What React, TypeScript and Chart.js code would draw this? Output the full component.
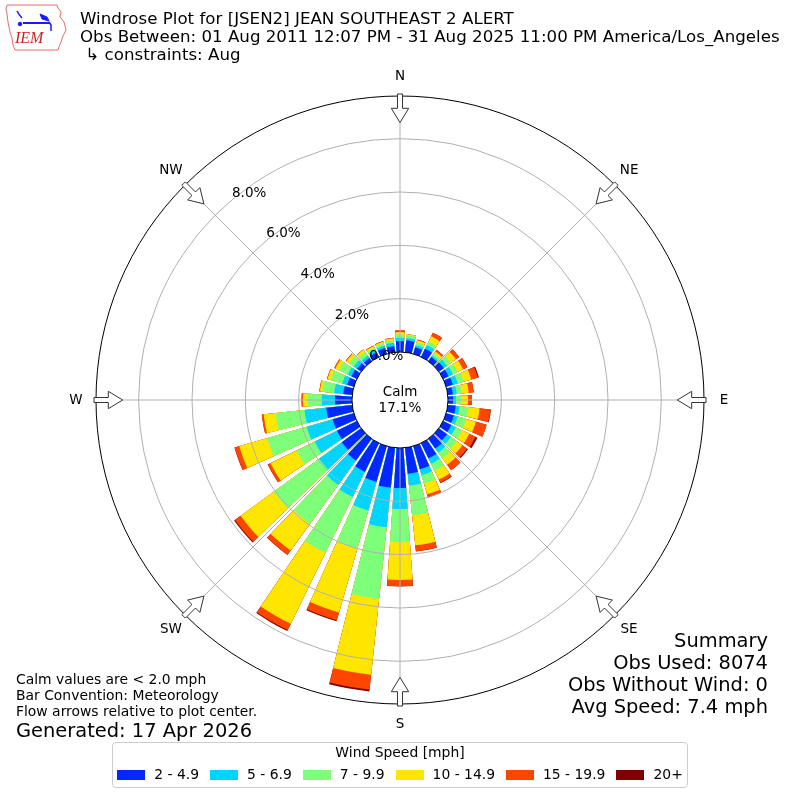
import React, { useEffect, useRef } from "react";
import { Chart, registerables } from "chart.js";

Chart.register(...registerables);

// ---------------- data ----------------
const directionsDeg = [0, 10, 20, 30, 40, 50, 60, 70, 80, 90, 100, 110, 120, 130, 140, 150, 160, 170,
  180, 190, 200, 210, 220, 230, 240, 250, 260, 270, 280, 290, 300, 310, 320, 330, 340, 350];

const speedLabels = ["2 - 4.9", "5 - 6.9", "7 - 9.9", "10 - 14.9", "15 - 19.9", "20+"];
const speedColors = ["#0028ff", "#00d4ff", "#7dff7a", "#ffe600", "#ff4600", "#7f0000"];

// percent of observations per direction, per speed class
const pct2to5 = [0.41, 0.45, 0.26, 0.34, 0.19, 0.23, 0.23, 0.26, 0.19, 0.19, 0.30, 0.30, 0.34, 0.38, 0.45, 0.64, 0.90, 0.98,
  1.50, 1.50, 1.39, 1.20, 1.01, 0.90, 0.83, 0.83, 0.98, 0.64, 0.34, 0.26, 0.23, 0.19, 0.15, 0.19, 0.23, 0.23];
const pct5to7 = [0.12, 0.09, 0.08, 0.15, 0.07, 0.15, 0.18, 0.19, 0.15, 0.11, 0.15, 0.15, 0.19, 0.18, 0.19, 0.22, 0.23, 0.45,
  0.79, 1.50, 1.12, 1.05, 1.13, 1.05, 0.93, 1.01, 0.82, 0.49, 0.34, 0.19, 0.15, 0.15, 0.11, 0.11, 0.09, 0.13];
const pct7to10 = [0.13, 0.10, 0.11, 0.15, 0.12, 0.18, 0.19, 0.23, 0.19, 0.19, 0.34, 0.34, 0.26, 0.27, 0.26, 0.30, 0.33, 1.12,
  1.24, 2.70, 1.50, 2.33, 1.80, 2.10, 0.75, 1.54, 1.09, 0.56, 0.45, 0.45, 0.37, 0.22, 0.15, 0.09, 0.09, 0.10];
const pct10to15 = [0.09, 0.04, 0.08, 0.22, 0.07, 0.23, 0.23, 0.30, 0.26, 0.26, 0.41, 0.37, 0.30, 0.26, 0.30, 0.36, 0.42, 1.13,
  1.42, 2.86, 2.48, 2.96, 1.24, 1.54, 1.09, 1.09, 0.45, 0.15, 0.09, 0.13, 0.15, 0.12, 0.12, 0.06, 0.06, 0.07];
const pct15to20 = [0.06, 0.00, 0.03, 0.15, 0.08, 0.15, 0.18, 0.26, 0.19, 0.15, 0.41, 0.42, 0.26, 0.22, 0.26, 0.13, 0.11, 0.22,
  0.23, 0.56, 0.30, 0.26, 0.19, 0.26, 0.11, 0.18, 0.07, 0.05, 0.02, 0.02, 0.04, 0.03, 0.01, 0.02, 0.02, 0.02];
const pct20plus = [0, 0, 0, 0, 0, 0, 0, 0.04, 0, 0, 0.02, 0, 0.08, 0.04, 0, 0.02, 0.01, 0.01,
  0.01, 0.07, 0.04, 0.04, 0.01, 0.04, 0.01, 0.01, 0, 0, 0, 0, 0, 0, 0, 0, 0, 0];

const radialTicks = [0, 2, 4, 6, 8];
const compassLabels = ["N", "NE", "E", "SE", "S", "SW", "W", "NW"];
const compassAngles = [0, 45, 90, 135, 180, 225, 270, 315];
const calmPercent = 17.1;

const titleLines = [
  "Windrose Plot for [JSEN2] JEAN SOUTHEAST 2 ALERT",
  "Obs Between: 01 Aug 2011 12:07 PM - 31 Aug 2025 11:00 PM America/Los_Angeles",
  " \u21b3 constraints: Aug",
];
const noteLines = ["Calm values are < 2.0 mph", "Bar Convention: Meteorology", "Flow arrows relative to plot center."];
const generatedText = "Generated: 17 Apr 2026";
const summaryLines = ["Summary", "Obs Used: 8074", "Obs Without Wind: 0", "Avg Speed: 7.4 mph"];
const legendTitle = "Wind Speed [mph]";

// ---------------- layout constants ----------------
const R_MIN = -1.8;
const R_MAX = 9.6;
const BAR_DEG = 8;
const GAP_DEG = 2;
const FONT = '"DejaVu Sans", "Liberation Sans", sans-serif';

const decorPlugin = {
  id: "windroseDecor",
  afterDatasetsDraw(chart: any) {
    const scale = chart.scales.r;
    const ctx: CanvasRenderingContext2D = chart.ctx;
    const cx = scale.xCenter;
    const cy = scale.yCenter;
    const rad = (v: number) => scale.getDistanceFromCenterForValue(v);
    const r0 = rad(0);
    const rOuter = rad(R_MAX);
    const pt = (r: number, deg: number) => {
      const t = (deg * Math.PI) / 180;
      return [cx + r * Math.sin(t), cy - r * Math.cos(t)];
    };
    ctx.save();
    // grid circles
    ctx.lineWidth = 1;
    ctx.strokeStyle = "#b0b0b0";
    for (const t of radialTicks) {
      if (t <= 0) continue;
      ctx.beginPath();
      ctx.arc(cx, cy, rad(t), 0, Math.PI * 2);
      ctx.stroke();
    }
    // radial lines
    for (const a of compassAngles) {
      const [x1, y1] = pt(r0, a);
      const [x2, y2] = pt(rOuter, a);
      ctx.beginPath();
      ctx.moveTo(x1, y1);
      ctx.lineTo(x2, y2);
      ctx.stroke();
    }
    // outer frame
    ctx.strokeStyle = "#000";
    ctx.beginPath();
    ctx.arc(cx, cy, rOuter, 0, Math.PI * 2);
    ctx.stroke();
    // calm circle
    ctx.beginPath();
    ctx.arc(cx, cy, r0, 0, Math.PI * 2);
    ctx.fillStyle = "#fff";
    ctx.fill();
    ctx.stroke();
    ctx.fillStyle = "#000";
    ctx.font = `13.5px ${FONT}`;
    ctx.textAlign = "center";
    ctx.textBaseline = "middle";
    ctx.fillText("Calm", cx, cy - 8);
    ctx.fillText(`${calmPercent.toFixed(1)}%`, cx, cy + 8);
    // radial tick labels
    ctx.textAlign = "left";
    ctx.textBaseline = "bottom";
    for (const t of radialTicks) {
      const [x, y] = pt(rad(t), -40);
      ctx.fillText(`${t.toFixed(1)}%`, x, y);
    }
    // compass labels
    ctx.textAlign = "center";
    ctx.textBaseline = "middle";
    compassLabels.forEach((lab, i) => {
      const [x, y] = pt(rOuter + 20, compassAngles[i]);
      ctx.fillText(lab, x, y);
    });
    // flow arrows pointing to center
    ctx.lineWidth = 1;
    ctx.strokeStyle = "#333";
    ctx.fillStyle = "#fff";
    for (const a of compassAngles) {
      const t = (a * Math.PI) / 180;
      const ux = Math.sin(t), uy = -Math.cos(t);
      const px = Math.cos(t), py = Math.sin(t);
      const P = (r: number, s: number) => [cx + ux * r + px * s, cy + uy * r + py * s];
      const shape = [
        P(rOuter + 2, -2.5), P(rOuter - 12.3, -2.5), P(rOuter - 12.3, -8.7), P(rOuter - 26.7, 0),
        P(rOuter - 12.3, 8.7), P(rOuter - 12.3, 2.5), P(rOuter + 2, 2.5),
      ];
      ctx.beginPath();
      shape.forEach(([x, y], i) => (i === 0 ? ctx.moveTo(x, y) : ctx.lineTo(x, y)));
      ctx.closePath();
      ctx.fill();
      ctx.stroke();
    }
    ctx.restore();
  },
};

function Txt(props: { x: number; base: number; size: number; align?: string; children: any; style?: any }) {
  const { x, base, size, align = "left", children, style } = props;
  const s: any = {
    position: "absolute",
    top: base - 0.846 * size,
    fontSize: size,
    lineHeight: 1,
    whiteSpace: "pre",
    fontFamily: FONT,
    color: "#000",
    ...style,
  };
  if (align === "right") s.right = 800 - x;
  else if (align === "center") {
    s.left = x;
    s.transform = "translateX(-50%)";
  } else s.left = x;
  return <div style={s}>{children}</div>;
}

function Logo() {
  return (
    <svg width={75} height={55} style={{ position: "absolute", left: 0, top: 0 }}>
      <path
        d="M7 5 L57 5 L58 8 L61 12 L60 17 L64 22 L66 30 L63 36 L61 42 L59 47 L58 50 L15 50 L13 45 L12 38 L10 32 L8 22 L7 14 L6 9 Z"
        fill="none"
        stroke="#e07070"
        strokeWidth={1}
      />
      <g stroke="#1a1aff" fill="#1a1aff">
        <line x1={23} y1={23} x2={50} y2={23} strokeWidth={2} />
        <circle cx={20} cy={24} r={1.8} />
        <path d="M17 11 Q19 15 22 18" fill="none" strokeWidth={1.5} />
        <path d="M40 14 L47 17 L49 21 L42 19 Z" />
        <path d="M49 22 L51 25 L51 31" fill="none" strokeWidth={1.5} />
      </g>
      <text x={15} y={43} fontFamily="Liberation Serif, serif" fontStyle="italic" fontSize={16} fill="#cc2222">
        IEM
      </text>
    </svg>
  );
}

export default function App() {
  const canvasRef = useRef<HTMLCanvasElement>(null);

  useEffect(() => {
    const canvas = canvasRef.current;
    if (!canvas) return;
    const speedSeries = [pct2to5, pct5to7, pct7to10, pct10to15, pct15to20, pct20plus];
    const cumulative = speedSeries.map((_, k) =>
      directionsDeg.map((__, i) => speedSeries.slice(0, k + 1).reduce((s, arr) => s + arr[i], 0))
    );
    const datasets = cumulative.map((cum, k) => ({
      label: speedLabels[k],
      data: cum.flatMap((v) => [v, R_MIN]),
      backgroundColor: speedColors[k],
      borderWidth: 0,
      angle: (c: any) => (c.dataIndex % 2 === 0 ? BAR_DEG : GAP_DEG),
    }));
    const chart = new Chart(canvas, {
      type: "polarArea",
      data: {
        labels: directionsDeg.flatMap((d) => [`${d}\u00b0`, ""]),
        datasets: datasets as any,
      },
      options: {
        responsive: false,
        animation: false,
        events: [],
        layout: { padding: { left: 96, right: 96, top: 96, bottom: 96 } },
        plugins: {
          legend: { display: false },
          title: { display: false },
          tooltip: { enabled: false },
        },
        scales: {
          r: {
            type: "radialLinear",
            min: R_MIN,
            max: R_MAX,
            startAngle: -BAR_DEG / 2,
            beginAtZero: false,
            ticks: { display: false },
            grid: { display: false },
            angleLines: { display: false },
            pointLabels: { display: false },
          },
        },
      } as any,
      plugins: [decorPlugin],
    });
    return () => chart.destroy();
  }, []);

  const legendItems = speedLabels.map((lab, i) => (
    <div key={lab} style={{ display: "flex", alignItems: "center", marginRight: i < speedLabels.length - 1 ? 11 : 0 }}>
      <div style={{ width: 28, height: 10, background: speedColors[i], marginRight: 9 }} />
      <span style={{ fontSize: 13.9, lineHeight: 1, whiteSpace: "pre" }}>{lab}</span>
    </div>
  ));

  return (
    <div
      style={{
        position: "absolute",
        left: 0,
        top: 0,
        width: 800,
        height: 800,
        background: "#fff",
        overflow: "hidden",
        fontFamily: FONT,
      }}
    >
      <canvas ref={canvasRef} width={800} height={800} style={{ position: "absolute", left: 0, top: 0, width: 800, height: 800 }} />
      <Logo />
      <Txt x={80} base={25} size={16.67}>{titleLines[0]}</Txt>
      <Txt x={80} base={43.5} size={16.67}>{titleLines[1]}</Txt>
      <Txt x={80} base={61} size={16.67}>{titleLines[2]}</Txt>
      {noteLines.map((l, i) => (
        <Txt key={l} x={16} base={685 + i * 16} size={13.9}>{l}</Txt>
      ))}
      <Txt x={16} base={737} size={19.44}>{generatedText}</Txt>
      {summaryLines.map((l, i) => (
        <Txt key={l} x={768} base={647 + i * 22} size={19.44} align="right">{l}</Txt>
      ))}
      <div
        style={{
          position: "absolute",
          left: 112,
          top: 742,
          width: 576,
          height: 46,
          boxSizing: "border-box",
          border: "1px solid #cccccc",
          borderRadius: 4,
          background: "rgba(255,255,255,0.8)",
        }}
      />
      <Txt x={400} base={758} size={13.9} align="center">{legendTitle}</Txt>
      <div
        style={{
          position: "absolute",
          left: 112,
          width: 576,
          top: 768,
          height: 14,
          display: "flex",
          justifyContent: "center",
          alignItems: "center",
          fontFamily: FONT,
        }}
      >
        {legendItems}
      </div>
    </div>
  );
}
